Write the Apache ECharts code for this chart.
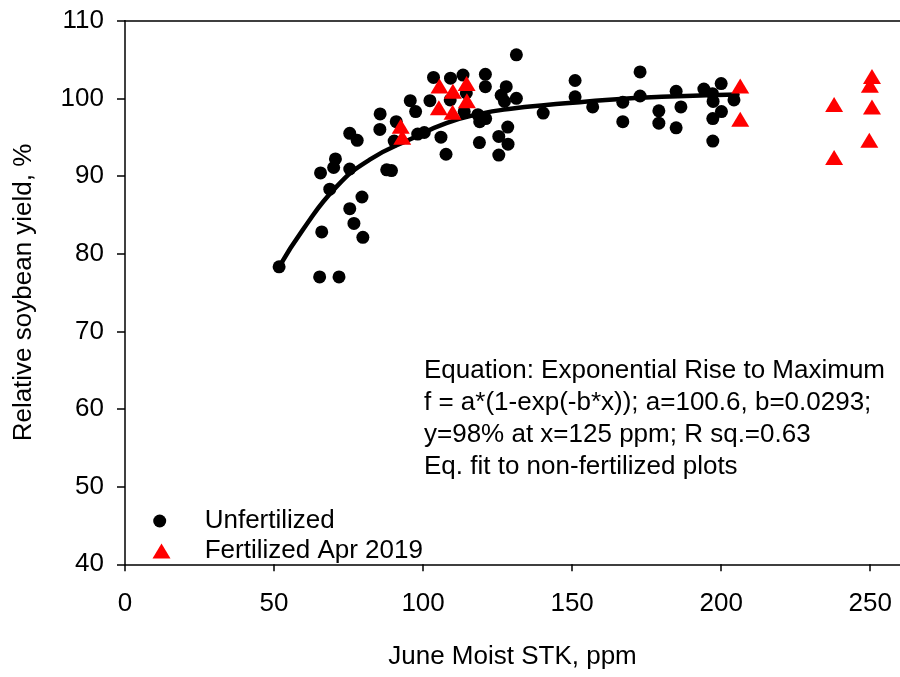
<!DOCTYPE html>
<html>
<head>
<meta charset="utf-8">
<script src="https://cdn.jsdelivr.net/npm/echarts@6/dist/echarts.min.js"></script>
<style>
html,body{margin:0;padding:0;background:#fff;}
#chart{width:900px;height:677px;}
</style>
</head>
<body>
<div id="chart"></div>
<script>
// ---- Data ----
const unfertilized = [
  [51.7,78.3],[65.3,77.0],[71.8,77.0],[66.0,82.8],[79.8,82.1],[76.8,83.9],[75.4,85.8],[79.5,87.3],
  [68.7,88.3],[65.6,90.4],[70.0,91.1],[70.6,92.2],[75.4,90.9],[75.4,95.5],[77.9,94.6],[87.8,90.8],
  [89.4,90.7],[85.6,98.0],[85.5,96.0],[91.0,97.0],[90.3,94.5],[95.7,99.7],[97.5,98.3],[98.2,95.4],
  [100.4,95.6],[102.3,99.7],[103.5,102.7],[106.0,95.0],[107.7,92.8],[109.2,102.6],[113.4,103.0],
  [120.9,103.1],[120.9,101.5],[127.9,101.5],[126.2,100.4],[127.3,99.6],[131.3,100.0],[109.1,99.8],
  [114.5,100.7],[113.8,98.3],[118.4,97.9],[119.0,97.0],[121.0,97.4],[128.4,96.3],[125.4,95.1],
  [128.5,94.1],[118.9,94.3],[125.4,92.7],[140.3,98.1],[131.3,105.6],[151.0,102.3],[151.0,100.2],
  [156.9,98.9],[167.0,99.5],[167.0,97.0],[172.8,103.4],[172.8,100.3],[179.1,98.4],[179.1,96.8],
  [184.9,100.9],[186.5,98.9],[184.9,96.2],[194.2,101.2],[200.0,101.9],[197.1,100.6],[197.3,99.6],
  [200.1,98.3],[197.2,97.4],[197.2,94.5],[204.3,99.8]
];
const fertilized = [
  [92.5,96.4],[93.0,95.0],[105.5,101.6],[110.0,100.9],[114.6,101.9],[105.3,98.8],[109.9,98.2],
  [114.7,99.7],[206.4,101.6],[206.4,97.3],[237.9,99.2],[237.9,92.4],[250.6,102.8],[249.9,101.7],
  [250.6,98.9],[249.7,94.6]
];
const fitCurve = [
  [51.7,78.3],[59.7,83.1],[70.9,88.6],[82.1,92.1],[96.6,94.9],[107.8,96.8],[119.0,98.0],
  [130.1,98.7],[141.3,99.15],[152.5,99.5],[165,99.9],[180,100.2],[195,100.4],[205.5,100.5]
];
const xTicks = [0,50,100,150,200,250];
const yTicks = [40,50,60,70,80,90,100,110];
const seriesNames = ['Unfertilized','Fertilized Apr 2019'];
const annotationLines = [
  'Equation: Exponential Rise to Maximum',
  'f = a*(1-exp(-b*x)); a=100.6, b=0.0293;',
  'y=98% at x=125 ppm; R sq.=0.63',
  'Eq. fit to non-fertilized plots'
];
const xName = 'June Moist STK, ppm';
const yName = 'Relative soybean yield, %';

const FONT = 'Liberation Sans, Arial, sans-serif';
const FS = 26;

const chart = echarts.init(document.getElementById('chart'), null, {renderer:'canvas'});
const option = {
  backgroundColor:'#fff',
  animation:false,
  textStyle:{fontFamily:FONT},
  grid:{left:125, top:20.7, right:0, bottom:112.7, containLabel:false},
  xAxis:[{
    type:'value', min:0, max:260, interval:50, position:'bottom',
    name:xName, nameLocation:'middle', nameGap:80,
    nameTextStyle:{fontFamily:FONT, fontSize:FS, color:'#000'},
    axisLine:{show:true, onZero:false, lineStyle:{color:'#000', width:1.5}},
    axisTick:{show:true, inside:false, length:7, customValues:xTicks, lineStyle:{color:'#000', width:1.5}},
    axisLabel:{show:true, margin:27, customValues:xTicks, fontFamily:FONT, fontSize:FS, color:'#000'},
    splitLine:{show:false}
  },{
    type:'value', min:0, max:260, position:'top',
    axisLine:{show:true, onZero:false, lineStyle:{color:'#000', width:1.5}},
    axisTick:{show:false}, axisLabel:{show:false}, splitLine:{show:false}
  }],
  yAxis:{
    type:'value', min:40, max:110, interval:10,
    name:yName, nameLocation:'middle', nameGap:88,
    nameTextStyle:{fontFamily:FONT, fontSize:FS, color:'#000'},
    axisLine:{show:true, onZero:false, lineStyle:{color:'#000', width:1.5}},
    axisTick:{show:true, inside:false, length:8, customValues:yTicks, lineStyle:{color:'#000', width:1.5}},
    axisLabel:{show:true, margin:21, customValues:yTicks, fontFamily:FONT, fontSize:FS, color:'#000'},
    splitLine:{show:false}
  },
  legend:[{
    data:[seriesNames[0]], orient:'vertical', left:153.2, top:508, padding:0,
    itemWidth:80, itemHeight:13, selectedMode:false,
    itemStyle:{opacity:1},
    textStyle:{fontFamily:FONT, fontSize:FS, color:'#000'}
  },{
    data:[{name:seriesNames[1], icon:'path://M9,0L18,15L0,15Z'}], orient:'vertical', left:152.5, top:538, padding:0,
    itemWidth:76.4, itemHeight:15, selectedMode:false, symbolKeepAspect:true,
    itemStyle:{opacity:1},
    textStyle:{fontFamily:FONT, fontSize:FS, color:'#000'}
  }],
  graphic:[{
    type:'text', left:424, top:355, silent:true,
    style:{text:annotationLines.join('\n'), font:FS+'px '+FONT, fill:'#000', lineHeight:32}
  }],
  series:[{
    name:seriesNames[0], type:'scatter', data:unfertilized,
    symbol:'circle', symbolSize:13, itemStyle:{color:'#000', opacity:1}, z:2
  },{
    name:'fit', type:'line', data:fitCurve, smooth:true,
    showSymbol:false, lineStyle:{color:'#000', width:4.5, cap:'round', opacity:1}, z:3
  },{
    name:seriesNames[1], type:'scatter', data:fertilized,
    symbol:'triangle', symbolSize:[18,15], itemStyle:{color:'#ff0000', opacity:1}, z:4
  }]
};
chart.setOption(option);
</script>
</body>
</html>
